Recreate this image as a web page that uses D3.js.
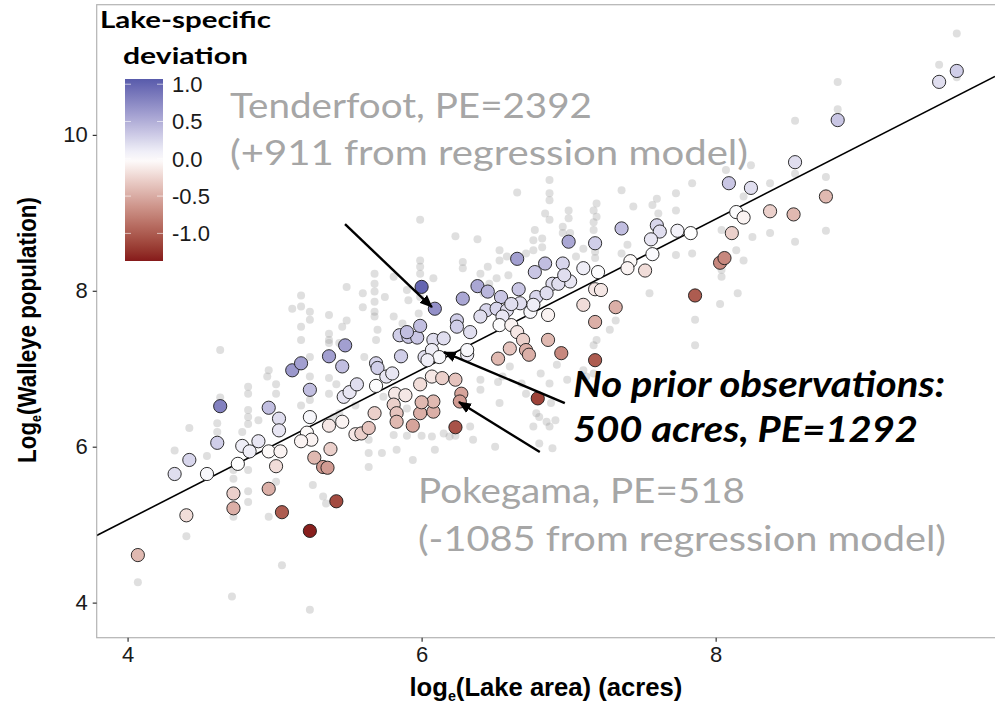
<!DOCTYPE html>
<html>
<head>
<meta charset="utf-8">
<script src="https://cdn.jsdelivr.net/npm/d3@7/dist/d3.min.js"></script>
<style>
body { margin: 0; background: #fff; }
</style>
</head>
<body>
<div id="chart-area"></div>
<script>
/*
*    walleye.js
*/

// lakes with an estimate: [log area, log walleye population, lake-specific deviation]
var lakes = [
  [4.07,4.61,-0.42],[4.40,5.12,-0.2],[4.32,5.65,0.2],[4.42,5.83,0.25],[4.54,5.65,0.05],
  [4.61,6.05,0.3],[4.63,6.52,0.8],[4.72,5.40,-0.28],[4.72,5.21,-0.48],[4.75,5.78,0],
  [4.78,6.01,0.1],[4.83,5.94,0.1],[4.89,6.07,0.15],[4.96,6.50,0.4],[4.96,5.46,-0.48],
  [4.96,5.94,-0.03],[5.03,6.36,0.2],[5.03,6.21,0.15],[5.04,5.94,-0.07],[5.01,5.75,-0.2],
  [5.05,5.16,-1.0],[5.24,6.73,0.4],[5.24,6.38,0.05],[5.22,6.18,-0.03],[5.25,6.09,-0.07],
  [5.18,6.07,-0.07],[5.27,5.86,-0.42],[5.24,4.92,-1.35],[5.33,5.74,-0.6],[5.36,5.73,-0.6],
  [5.38,5.97,-0.28],[5.42,5.30,-1.1],[5.12,6.98,0.65],[5.18,7.07,0.6],[5.37,7.16,0.6],
  [5.46,7.03,0.4],[5.48,7.30,0.6],[5.47,6.64,0.15],[5.51,6.70,0.15],[6.00,8.05,1.0],
  [6.09,7.77,0.7],[5.37,6.27,-0.14],[5.56,6.80,0.2],[5.46,6.32,-0.07],[5.55,6.16,-0.14],
  [5.59,6.17,-0.28],[5.64,6.24,-0.35],[5.68,6.43,-0.28],[5.69,6.78,0.02],[5.69,7.07,0.25],
  [5.70,7.01,0.3],[5.76,6.90,0.15],[5.80,6.94,0.15],[5.86,7.16,0.3],[5.82,6.68,-0.14],
  [5.89,6.66,-0.14],[5.81,6.54,-0.28],[5.83,6.43,-0.35],[5.83,6.32,-0.42],[5.94,6.27,-0.55],
  [5.99,6.43,-0.48],[6.08,6.45,-0.48],[6.08,6.58,-0.42],[6.00,6.57,-0.42],[5.99,6.80,-0.2],
  [6.07,6.90,-0.14],[6.14,6.88,-0.28],[6.23,6.86,-0.35],[6.27,6.68,-0.55],[6.26,6.58,-0.6],
  [6.23,6.25,-1.05],[5.85,7.43,0.3],[5.91,7.41,0.35],[5.97,7.40,0.35],[5.99,7.55,0.4],
  [5.90,7.47,0.4],[6.02,7.15,0.2],[6.08,7.37,0.2],[6.15,7.39,0.2],[6.07,7.24,0.1],
  [6.12,7.15,0.05],[6.04,7.11,0.1],[6.24,7.62,0.3],[6.24,7.54,0.3],[6.33,7.47,0.2],
  [6.28,7.90,0.55],[6.38,8.06,0.55],[6.45,7.99,0.45],[6.54,7.92,0.35],[6.66,8.02,0.35],
  [6.65,8.41,0.6],[6.44,7.75,0.25],[6.51,7.77,0.25],[6.58,7.75,0.2],[6.55,7.67,0.15],
  [6.40,7.67,0.2],[6.31,7.18,0.1],[6.31,7.24,0.05],[6.78,7.92,0.25],[6.77,8.24,0.35],
  [6.84,8.35,0.4],[6.96,8.35,0.25],[7.01,8.12,0.15],[6.74,7.73,0.05],[6.76,7.82,0.1],
  [6.86,7.69,-0.07],[6.53,7.56,0.02],[6.61,7.56,-0.07],[6.65,7.47,-0.14],[6.69,7.37,-0.28],
  [6.60,7.26,-0.35],[6.71,7.24,-0.48],[6.73,7.18,-0.48],[6.86,7.37,-0.42],[6.95,7.20,-0.72],
  [6.52,7.13,-0.42],[6.79,6.62,-1.15],[7.18,7.60,-0.48],[7.18,7.11,-1.0],[7.00,8.63,0.55],
  [7.18,8.61,0.3],[6.89,8.09,0.2],[6.93,8.09,0.2],[6.97,8.20,0.2],[7.10,8.29,0.1],
  [7.20,8.24,0.02],[6.85,7.97,0.2],[6.67,7.84,0.2],[6.61,7.83,0.2],[7.18,8.02,-0.14],
  [7.22,8.01,-0.14],[7.10,7.82,-0.2],[8.09,9.38,0.35],[8.24,9.32,0.2],[8.54,9.65,0.2],
  [8.14,9.01,0.02],[8.19,8.94,-0.07],[8.37,9.02,-0.28],[8.53,8.98,-0.42],[8.11,8.74,-0.28],
  [8.03,8.36,-0.72],[8.06,8.42,-0.72],[7.86,7.94,-1.0],[7.74,8.77,0.08],[7.83,8.74,0],
  [7.60,8.84,0.25],[7.62,8.76,0.2],[7.56,8.66,0.15],[7.36,8.80,0.4],[7.57,8.47,0.03],
  [7.52,8.26,-0.2],[7.42,8.38,-0.03],[7.40,8.29,-0.07],[7.32,7.79,-0.48],[9.64,10.82,0.3],
  [9.52,10.68,0.2],[8.83,10.19,0.35],[8.75,9.21,-0.42]
]

// individual survey estimates: [log area, log walleye population]
var surveys = [
  [4.07,4.26],[4.40,4.85],[4.32,5.95],[4.54,5.88],[4.61,6.30],[4.61,6.19],[4.63,6.63],[4.42,6.24],
  [4.72,5.59],[4.72,5.70],[4.72,5.10],[4.71,4.08],[4.82,6.77],[4.82,6.68],[4.82,6.47],[4.82,6.38],
  [4.82,6.29],[4.82,5.70],[4.82,5.43],[4.82,5.29],[4.78,6.19],[4.89,6.34],[4.96,5.10],[5.01,6.80],
  [5.01,6.68],[5.01,5.55],[5.05,4.48],[5.18,6.53],[5.24,6.60],[5.24,3.91],[5.26,5.51],[5.33,5.36],
  [5.35,5.27],[4.63,7.24],[4.96,6.98],[5.12,7.77],[5.18,7.94],[5.18,7.80],[5.24,7.73],[5.24,7.63],
  [5.18,7.54],[5.18,7.37],[5.24,7.15],[5.24,6.90],[5.37,7.69],[5.37,7.45],[5.37,7.33],[5.37,6.88],
  [5.42,6.80],[5.46,7.54],[5.49,8.05],[5.37,6.68],[6.87,9.42],[6.87,9.25],[6.87,9.16],[6.65,9.26],
  [6.84,8.99],[6.87,8.91],[7.00,9.03],[7.00,8.93],[6.96,8.82],[6.96,8.74],[7.01,8.74],[7.17,9.03],
  [7.17,8.88],[7.17,8.78],[6.77,8.78],[6.82,8.67],[6.76,8.65],[6.82,8.56],[6.76,8.52],[5.99,8.91],
  [6.23,8.70],[6.38,8.66],[6.58,8.44],[6.53,8.52],[6.53,8.39],[6.28,8.37],[6.28,8.29],[6.40,8.22],
  [6.45,8.31],[6.51,8.16],[6.59,8.20],[5.99,8.39],[5.99,8.31],[5.99,8.22],[6.08,8.16],[5.99,7.92],
  [5.68,8.22],[5.68,8.09],[5.68,7.99],[5.68,7.86],[5.68,7.73],[5.75,7.92],[5.81,8.18],[5.90,8.01],
  [5.98,7.71],[5.81,7.67],[5.60,7.97],[5.60,7.79],[7.05,8.44],[7.10,8.54],[5.68,7.67],[5.37,7.37],
  [5.44,7.33],[5.49,7.62],[5.91,7.88],[5.87,7.58],[5.70,7.50],[5.69,7.37],[5.61,7.15],[5.74,6.64],
  [5.90,6.49],[4.95,6.90],[5.40,6.38],[5.44,6.43],[5.55,6.53],[5.64,6.09],[5.64,5.92],[5.64,5.74],
  [5.73,5.92],[5.83,5.96],[5.94,5.83],[6.07,6.13],[6.15,6.17],[6.09,5.96],[6.19,6.13],[6.33,6.26],
  [6.40,6.73],[6.40,6.86],[6.53,6.56],[6.55,6.90],[6.60,7.03],[6.68,6.81],[6.71,6.68],[6.78,6.43],
  [6.87,6.26],[6.46,8.09],[6.42,7.97],[6.71,8.48],[6.78,8.22],[7.10,6.98],[7.12,6.90],[6.99,6.86],
  [6.92,7.05],[7.19,7.37],[6.88,6.56],[6.87,6.81],[6.81,6.94],[6.85,6.32],[6.91,6.34],[6.80,6.38],
  [6.76,6.26],[6.52,6.83],[5.90,6.14],[6.00,6.14],[5.81,6.15],[6.23,6.14],[6.35,6.09],[6.50,6.00],
  [6.80,6.04],[7.17,6.94],[7.17,7.30],[7.28,7.50],[6.89,5.98],[7.19,9.12],[7.19,8.95],[7.18,8.50],
  [7.18,8.42],[7.36,9.29],[7.60,9.18],[7.57,9.10],[7.44,9.08],[7.73,9.25],[7.73,9.03],[7.84,9.38],
  [8.07,9.55],[8.19,9.21],[8.37,9.38],[8.25,8.69],[8.37,8.74],[8.54,8.63],[8.04,8.78],[8.04,8.27],
  [8.04,8.18],[7.84,8.48],[7.73,8.46],[8.14,8.52],[7.55,7.97],[7.40,8.59],[7.36,8.48],[8.15,7.97],
  [8.83,10.33],[8.54,10.18],[8.75,9.46],[8.75,8.77],[8.24,9.61],[7.61,8.99],[8.19,8.39],[8.03,7.83],
  [7.86,7.63],[7.86,7.30],[7.32,7.62],[9.64,11.30],[9.52,10.90],[9.64,10.74],[8.83,10.68],[8.54,9.50]
]

// regression model
var intercept = 1.207
var slope = 0.964

var xTicks = [4, 6, 8]
var yTicks = [4, 6, 8, 10]
var legendTicks = [1.0, 0.5, 0.0, -0.5, -1.0]
var devRange = [-1.37, 1.07]

// annotations: [tail x, tail y, tip x, tip y] in data units
var arrows = [
  [5.479, 8.855, 6.070, 7.791],
  [6.974, 6.560, 6.152, 7.214],
  [6.804, 5.932, 6.254, 6.573]
]

var width = 995
var height = 708
var margin = {top: 4.7, right: 0, bottom: 70.3, left: 96.7}

var svg = d3.select("#chart-area").append("svg")
.attr("width", width)
.attr("height", height)
.style("font-family", "'Liberation Sans', Arial, sans-serif")

var x = d3.scaleLinear()
.domain([3.79, 9.90])
.range([margin.left, width - margin.right])

var y = d3.scaleLinear()
.domain([3.55, 11.67])
.range([height - margin.bottom, margin.top])

var color = d3.scaleLinear()
.domain([devRange[0], 0, devRange[1]])
.range(["#861a1a", "#ffffff", "#585bab"])
.interpolate(d3.interpolateLab)
.clamp(true)

svg.append("defs").append("clipPath")
.attr("id", "panel-clip")
.append("rect")
.attr("x", margin.left)
.attr("y", margin.top)
.attr("width", width - margin.left)
.attr("height", height - margin.top - margin.bottom)

var panel = svg.append("g").attr("clip-path", "url(#panel-clip)")

// grey survey points
panel.selectAll("circle.survey").data(surveys)
.enter().append("circle")
.attr("class", "survey")
.attr("cx", d => x(d[0]))
.attr("cy", d => y(d[1]))
.attr("r", 4)
.attr("fill", "#8c8c8c")
.attr("fill-opacity", 0.28)

// regression line
var xd = x.domain()
panel.append("line")
.attr("x1", x(xd[0]))
.attr("y1", y(intercept + slope * xd[0]))
.attr("x2", x(xd[1]))
.attr("y2", y(intercept + slope * xd[1]))
.attr("stroke", "#000")
.attr("stroke-width", 1.6)

// lake estimates
panel.selectAll("circle.lake").data(lakes)
.enter().append("circle")
.attr("class", "lake")
.attr("cx", d => x(d[0]))
.attr("cy", d => y(d[1]))
.attr("r", 6.6)
.attr("fill", d => color(d[2]))
.attr("stroke", "#1a1a1a")
.attr("stroke-width", 0.9)

// panel border
svg.append("rect")
.attr("x", margin.left)
.attr("y", margin.top)
.attr("width", width - margin.left + 2)
.attr("height", height - margin.top - margin.bottom)
.attr("fill", "none")
.attr("stroke", "#b3b3b3")
.attr("stroke-width", 1.2)

// axes
var xAxis = svg.append("g")
.attr("transform", "translate(0," + (height - margin.bottom) + ")")
.call(d3.axisBottom(x).tickValues(xTicks).tickFormat(d3.format("d")).tickSize(4).tickPadding(5))
var yAxis = svg.append("g")
.attr("transform", "translate(" + margin.left + ",0)")
.call(d3.axisLeft(y).tickValues(yTicks).tickFormat(d3.format("d")).tickSize(4).tickPadding(5))

svg.selectAll(".domain").remove()
svg.selectAll(".tick line").attr("stroke", "#333").attr("stroke-width", 1.2)
svg.selectAll(".tick text")
.attr("font-family", "'Liberation Sans', Arial, sans-serif")
.attr("font-size", "22px")
.attr("fill", "#1a1a1a")

// scales a text element horizontally so it covers w pixels
var fit = (sel, w) => {
  var cur = sel.node().getComputedTextLength()
  return cur > 0 ? w / cur : 1
}

// X Label
var xLabel = svg.append("text")
.attr("text-anchor", "middle")
.attr("font-weight", "bold")
.attr("font-size", "25px")
.style("font-family", "'Liberation Sans Narrow', 'Liberation Sans', sans-serif")
xLabel.append("tspan").text("log")
xLabel.append("tspan").attr("font-size", "14px").attr("dy", 5).text("e")
xLabel.append("tspan").attr("dy", -5).text("(Lake area) (acres)")
xLabel.attr("transform", "translate(" + ((margin.left + width) / 2) + ",696) scale(" + fit(xLabel, 273) + ",1)")

// Y Label
var yLabel = svg.append("text")
.attr("text-anchor", "middle")
.attr("font-weight", "bold")
.attr("font-size", "25px")
.style("font-family", "'Liberation Sans Narrow', 'Liberation Sans', sans-serif")
yLabel.append("tspan").text("Log")
yLabel.append("tspan").attr("font-size", "14px").attr("dy", 5).text("e")
yLabel.append("tspan").attr("dy", -5).text("(Walleye population)")
yLabel.attr("transform", "translate(36,330) rotate(-90) scale(" + fit(yLabel, 266) + ",1)")

// arrows
svg.append("defs").append("marker")
.attr("id", "head")
.attr("markerUnits", "userSpaceOnUse")
.attr("viewBox", "0 0 12 10")
.attr("refX", 11)
.attr("refY", 5)
.attr("markerWidth", 13)
.attr("markerHeight", 11)
.attr("orient", "auto")
.append("path")
.attr("d", "M0,0 L12,5 L0,10 Z")
.attr("fill", "#000")

svg.selectAll("line.arrow").data(arrows)
.enter().append("line")
.attr("class", "arrow")
.attr("x1", d => x(d[0]))
.attr("y1", d => y(d[1]))
.attr("x2", d => x(d[2]))
.attr("y2", d => y(d[3]))
.attr("stroke", "#000")
.attr("stroke-width", 2.4)
.attr("marker-end", "url(#head)")

// annotation text
var note = (txt, px, py, w, size, fill, weight, style) => {
  var t = svg.append("text")
  .attr("x", px)
  .attr("y", py)
  .attr("font-size", size + "px")
  .attr("font-weight", weight)
  .attr("font-style", style)
  .attr("fill", fill)
  .style("font-family", "Lato, 'Open Sans', sans-serif")
  .text(txt)
  t.attr("textLength", w).attr("lengthAdjust", "spacingAndGlyphs")
  return t
}

note("Tenderfoot, PE=2392", 230, 118, 362, 35, "#a6a6a6", "normal", "normal")
note("(+911 from regression model)", 230, 165, 518, 35, "#a6a6a6", "normal", "normal")
note("No prior observations:", 573, 397, 372, 37, "#000", "bold", "italic")
note("500 acres, PE=1292", 573, 442, 345, 37, "#000", "bold", "italic")
note("Pokegama, PE=518", 418, 503, 327, 35, "#a6a6a6", "normal", "normal")
note("(-1085 from regression model)", 418, 551, 528, 35, "#a6a6a6", "normal", "normal")

// legend
var legendY = d3.scaleLinear()
.domain([devRange[1], devRange[0]])
.range([79, 261])

var grad = svg.select("defs").append("linearGradient")
.attr("id", "dev-grad")
.attr("x1", 0).attr("y1", 0).attr("x2", 0).attr("y2", 1)
d3.range(0, 1.0001, 0.05).forEach(t => {
  var v = devRange[1] + t * (devRange[0] - devRange[1])
  grad.append("stop").attr("offset", t).attr("stop-color", color(v))
})

svg.append("rect")
.attr("x", 125)
.attr("y", legendY.range()[0])
.attr("width", 38)
.attr("height", legendY.range()[1] - legendY.range()[0])
.attr("fill", "url(#dev-grad)")

var lg = svg.append("g")
lg.selectAll("line.l").data(legendTicks).enter().append("line")
.attr("x1", 125).attr("x2", 131)
.attr("y1", d => legendY(d)).attr("y2", d => legendY(d))
.attr("stroke", "#fff").attr("stroke-opacity", 0.6)
lg.selectAll("line.r").data(legendTicks).enter().append("line")
.attr("x1", 157).attr("x2", 163)
.attr("y1", d => legendY(d)).attr("y2", d => legendY(d))
.attr("stroke", "#fff").attr("stroke-opacity", 0.6)
lg.selectAll("text").data(legendTicks).enter().append("text")
.attr("x", 172)
.attr("y", d => legendY(d))
.attr("dy", "0.36em")
.attr("font-size", "22px")
.attr("fill", "#1a1a1a")
.text(d => d.toFixed(1))

note("Lake-specific", 100, 28, 171, 23, "#000", "bold", "normal")
note("deviation", 123, 64, 125, 23, "#000", "bold", "normal")
</script>
</body>
</html>
